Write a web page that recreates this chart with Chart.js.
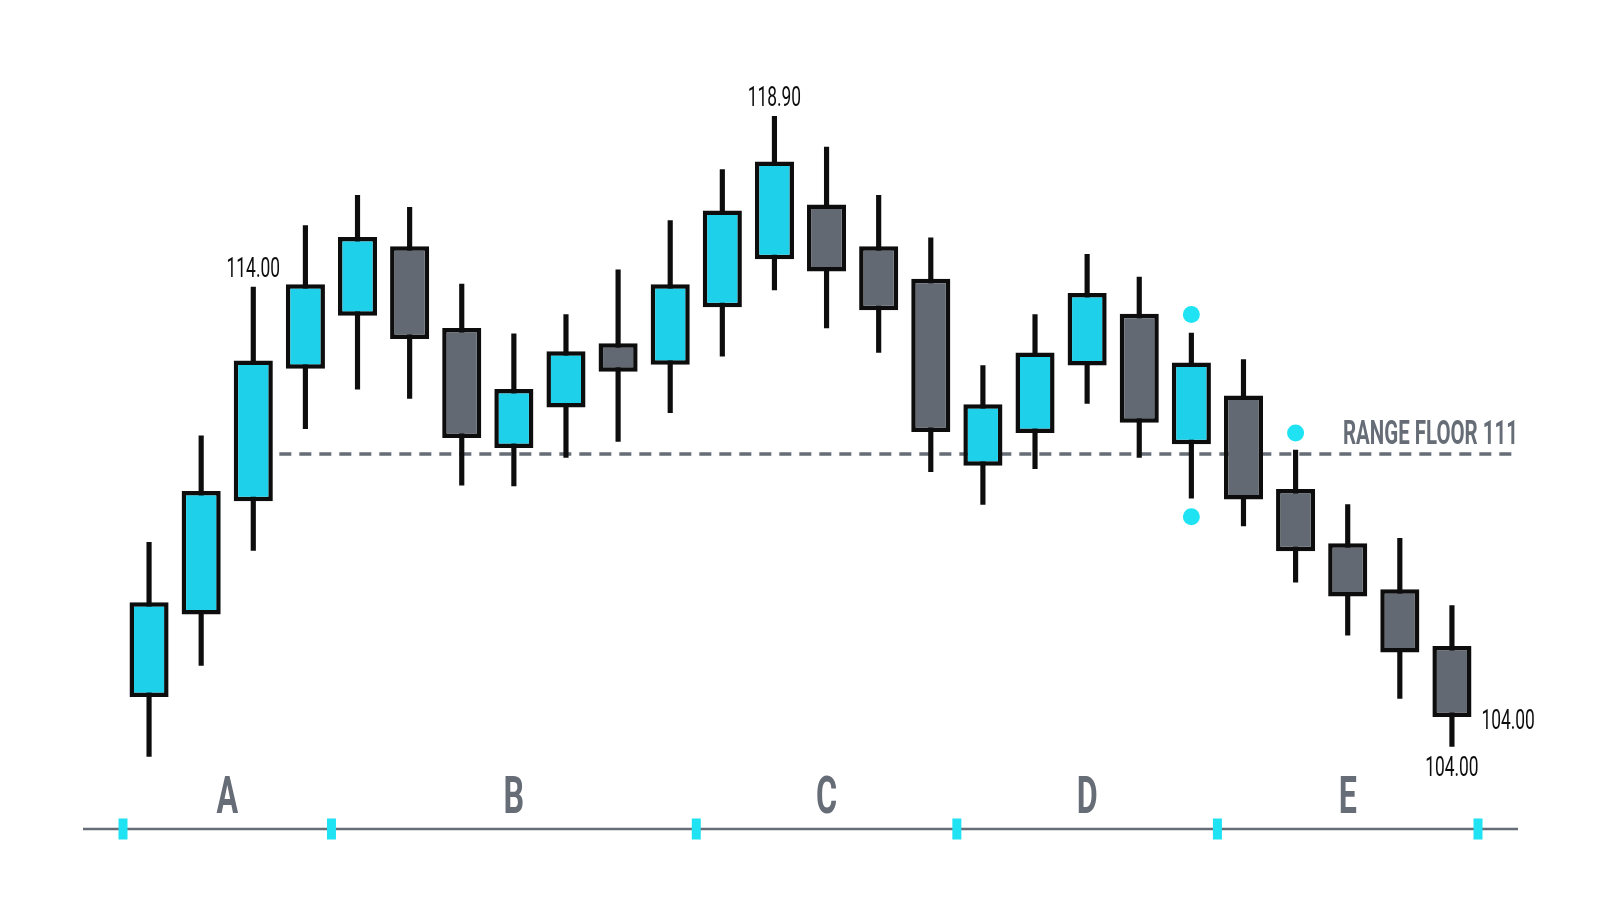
<!DOCTYPE html>
<html>
<head>
<meta charset="utf-8">
<title>Range floor candles</title>
<script src="https://cdn.jsdelivr.net/npm/chart.js@4.4.1/dist/chart.umd.min.js"></script>
<style>
  html, body { margin: 0; padding: 0; background: #ffffff; }
  #wrap { width: 1600px; height: 914px; position: relative; }
</style>
</head>
<body>
<div id="wrap"><canvas id="chart"></canvas></div>
<script>
// candle data
const candleLabels = ['1','2','3','4','5','6','7','8','9','10','11','12','13',
                      '14','15','16','17','18','19','20','21','22','23','24','25','26'];
const opens  = [105.23, 107.19, 109.88, 113.02, 114.28, 115.93, 113.99, 111.14, 112.10, 113.63,
                113.12, 114.48, 115.62, 116.92, 115.93, 115.16, 110.72, 111.50, 113.10, 114.33,
                111.23, 112.39, 110.17, 108.88, 107.79, 106.44];
const highs  = [108.90, 111.43, 114.96, 116.42, 117.14, 116.85, 115.03, 113.85, 114.31, 115.37,
                116.54, 117.75, 119.01, 118.28, 117.14, 116.13, 113.10, 114.31, 115.74, 115.20,
                113.87, 113.24, 111.09, 109.80, 109.00, 107.40];
const lows   = [103.82, 105.98, 108.71, 111.60, 112.54, 112.32, 110.26, 110.24, 110.92, 111.30,
                111.98, 113.32, 114.89, 113.99, 113.41, 110.58, 109.80, 110.65, 112.20, 110.92,
                109.95, 109.29, 107.96, 106.70, 105.20, 104.06];
const closes = [107.48, 110.12, 113.22, 115.03, 116.15, 113.73, 111.38, 112.54, 113.44, 112.95,
                115.03, 116.78, 117.94, 115.33, 114.41, 111.52, 112.18, 113.41, 114.82, 111.74,
                113.17, 109.92, 108.69, 107.62, 106.29, 104.76];

// sections under the candles
const groupNames = ['A', 'B', 'C', 'D', 'E'];
const groupSizes = [4, 7, 5, 5, 5];

// range floor
const rangeFloor = 111;
const rangeFloorLabel = 'RANGE FLOOR 111';
const rangeFloorFrom = 3;

// cyan marker dots
const markerCandles = [20, 20, 22];
const markerValues  = [114.31, 109.51, 111.50];

// price notes
const noteCandles = [2, 12, 25, 25];
const noteTexts   = ['114.00', '118.90', '104.00', '104.00'];
const notePlaces  = ['above', 'above', 'right', 'below'];

const CYAN = '#1fd0ea';
const GRAY = '#636973';
const INK = '#0d0d0d';
const SLATE = '#676d77';
const DOT = '#1fe3f2';
const AXIS_OVERHANG = 40;

function drawText(ctx, text, x, y, font, color, align, baseline, sx) {
  ctx.save();
  ctx.translate(x, y);
  ctx.scale(sx, 1);
  ctx.font = font;
  ctx.fillStyle = color;
  ctx.textAlign = align;
  ctx.textBaseline = baseline;
  ctx.fillText(text, 0, 0);
  ctx.restore();
}

const overlay = {
  id: 'overlay',
  beforeDatasetsDraw(chart) {
    const { ctx, chartArea: a, scales: { x, y } } = chart;
    const half = (x.getPixelForValue(1) - x.getPixelForValue(0)) / 2;
    const yF = y.getPixelForValue(rangeFloor);
    const x0 = x.getPixelForValue(rangeFloorFrom) - half;
    const x1 = a.right + AXIS_OVERHANG;
    ctx.save();
    ctx.strokeStyle = SLATE;
    ctx.lineWidth = 3.5;
    ctx.setLineDash([12, 8]);
    ctx.beginPath();
    ctx.moveTo(x0, yF);
    ctx.lineTo(x1, yF);
    ctx.stroke();
    ctx.restore();
    drawText(ctx, rangeFloorLabel, x1, yF - 10, '700 33px Roboto', SLATE, 'right', 'alphabetic', 0.62);
  },
  afterDatasetsDraw(chart) {
    const { ctx, chartArea: a, scales: { x, y } } = chart;
    const half = (x.getPixelForValue(1) - x.getPixelForValue(0)) / 2;
    const base = a.bottom;

    // baseline
    ctx.save();
    ctx.strokeStyle = SLATE;
    ctx.lineWidth = 2.5;
    ctx.beginPath();
    ctx.moveTo(a.left - AXIS_OVERHANG, base);
    ctx.lineTo(a.right + AXIS_OVERHANG, base);
    ctx.stroke();
    ctx.restore();

    // section ticks and letters
    let start = 0;
    const edges = [x.getPixelForValue(0) - half];
    groupSizes.forEach((n, g) => {
      const end = start + n - 1;
      const left = x.getPixelForValue(start) - half;
      const right = x.getPixelForValue(end) + half;
      edges.push(right);
      drawText(ctx, groupNames[g], (left + right) / 2, base - 16, '700 52px Roboto', SLATE, 'center', 'alphabetic', 0.62);
      start += n;
    });
    ctx.save();
    ctx.fillStyle = DOT;
    edges.forEach(px => ctx.fillRect(px - 4.5, base - 10.5, 9, 21));
    ctx.restore();

    // price notes
    const bodyMeta = chart.getDatasetMeta(0);
    noteCandles.forEach((c, k) => {
      const cx = x.getPixelForValue(c);
      const place = notePlaces[k];
      const font = '400 28px Roboto';
      if (place === 'above') {
        drawText(ctx, noteTexts[k], cx, y.getPixelForValue(highs[c]) - 10, font, INK, 'center', 'alphabetic', 0.62);
      } else if (place === 'below') {
        drawText(ctx, noteTexts[k], cx, y.getPixelForValue(lows[c]) + 30, font, INK, 'center', 'alphabetic', 0.62);
      } else {
        const bar = bodyMeta.data[c];
        drawText(ctx, noteTexts[k], cx + bar.width / 2 + 10, y.getPixelForValue(closes[c]) + 12, font, INK, 'left', 'alphabetic', 0.62);
      }
    });
  }
};

const bodyColors = opens.map((o, i) => (closes[i] >= o ? CYAN : GRAY));

new Chart(document.getElementById('chart'), {
  type: 'bar',
  data: {
    labels: candleLabels,
    datasets: [
      {
        label: 'Body',
        data: opens.map((o, i) => [o, closes[i]]),
        backgroundColor: bodyColors,
        borderColor: INK,
        borderWidth: 4.5,
        borderSkipped: false,
        barPercentage: 0.75,
        categoryPercentage: 1,
        grouped: false,
        order: 1
      },
      {
        label: 'Wick',
        data: lows.map((l, i) => [l, highs[i]]),
        backgroundColor: INK,
        barThickness: 4.5,
        grouped: false,
        order: 2
      },
      {
        type: 'line',
        label: 'Markers',
        data: markerCandles.map((c, i) => ({ x: candleLabels[c], y: markerValues[i] })),
        showLine: false,
        pointRadius: 8.5,
        pointHoverRadius: 8.5,
        pointBorderWidth: 0,
        pointBackgroundColor: DOT,
        order: 0
      }
    ]
  },
  options: {
    responsive: true, maintainAspectRatio: false, animation: false, events: [],
    layout: { padding: { left: 123, right: 122, top: 41, bottom: 85 } },
    plugins: { legend: { display: false }, tooltip: { enabled: false } },
    scales: {
      x: { display: false, offset: true },
      y: { display: false, min: 102.1, max: 120.8 }
    }
  },
  plugins: [overlay]
});
</script>
</body>
</html>
